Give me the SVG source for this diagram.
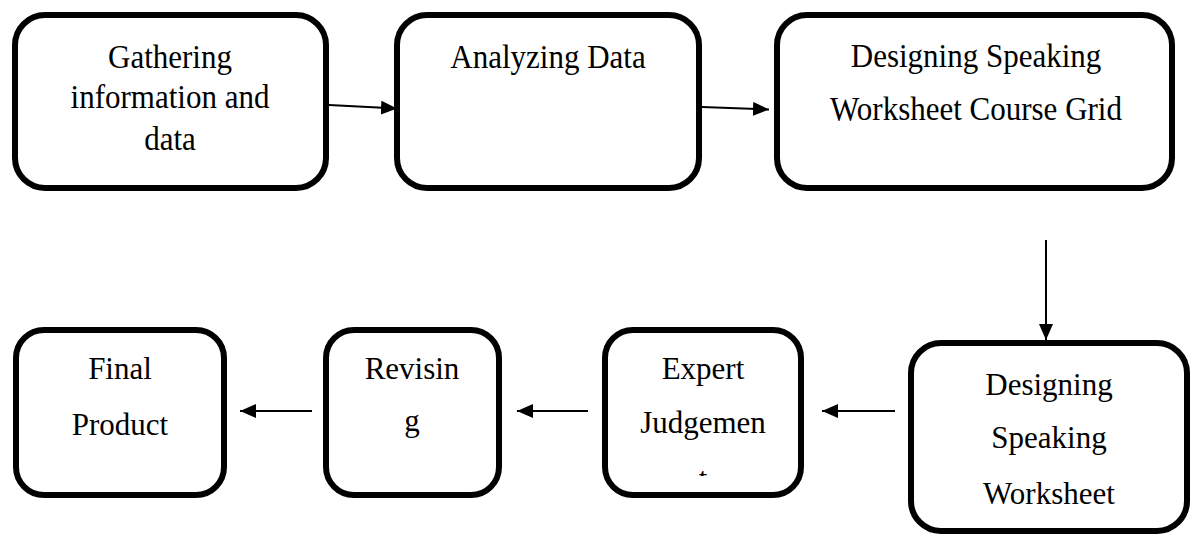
<svg xmlns="http://www.w3.org/2000/svg" width="1195" height="537" viewBox="0 0 1195 537">
  <style>
    .box { fill: #ffffff; stroke: #000000; stroke-width: 6; }
    .lbl { font-family: "Liberation Serif", "Times New Roman", serif; font-size: 31px; fill: #000000; text-anchor: middle; }
    .conn { stroke: #000000; stroke-width: 2; fill: none; marker-end: url(#head); }
  </style>
  <defs>
    <marker id="head" markerUnits="userSpaceOnUse" markerWidth="16" markerHeight="14" refX="16" refY="7" orient="auto">
      <path d="M0,0 L16,7 L0,14 Z" fill="#000000"/>
    </marker>
    <!-- the third line of "Judgement" is cut off by the box, only the top of the t shows -->
    <clipPath id="cut-t">
      <rect x="680" y="440" width="50" height="36"/>
    </clipPath>
  </defs>
  <rect width="1195" height="537" fill="#ffffff"/>

  <g id="n-gather">
    <rect class="box" x="15" y="15" width="311" height="173" rx="30"/>
    <text class="lbl" transform="translate(170 68) scale(1 1.06)">Gathering</text>
    <text class="lbl" transform="translate(170 108) scale(1 1.06)">information and</text>
    <text class="lbl" transform="translate(170 150) scale(1 1.06)">data</text>
  </g>

  <g id="n-analyze">
    <rect class="box" x="397" y="15" width="302" height="173" rx="30"/>
    <text class="lbl" transform="translate(548 68) scale(1 1.06)">Analyzing Data</text>
  </g>

  <g id="n-grid">
    <rect class="box" x="777" y="15" width="395" height="173" rx="30"/>
    <text class="lbl" transform="translate(976 67) scale(1 1.06)">Designing Speaking</text>
    <text class="lbl" transform="translate(976 120) scale(1 1.06)">Worksheet Course Grid</text>
  </g>

  <g id="n-worksheet">
    <rect class="box" x="911" y="343" width="276" height="188" rx="30"/>
    <text class="lbl" x="1049" y="395">Designing</text>
    <text class="lbl" x="1049" y="448">Speaking</text>
    <text class="lbl" x="1049" y="504">Worksheet</text>
  </g>

  <g id="n-expert">
    <rect class="box" x="605" y="330" width="196" height="165" rx="28"/>
    <text class="lbl" x="703" y="379">Expert</text>
    <text class="lbl" x="703" y="433">Judgemen</text>
    <g clip-path="url(#cut-t)">
      <text class="lbl" x="703" y="489">t</text>
    </g>
  </g>

  <g id="n-revise">
    <rect class="box" x="326" y="330" width="173" height="165" rx="28"/>
    <text class="lbl" x="412" y="379">Revisin</text>
    <text class="lbl" x="412" y="431">g</text>
  </g>

  <g id="n-final">
    <rect class="box" x="16" y="330" width="208" height="165" rx="28"/>
    <text class="lbl" x="120" y="379">Final</text>
    <text class="lbl" x="120" y="435">Product</text>
  </g>

  <g id="connectors">
    <line class="conn" x1="329" y1="105" x2="397" y2="108.5"/>
    <line class="conn" x1="702" y1="107" x2="769" y2="109.5"/>
    <line class="conn" x1="1046" y1="240" x2="1046" y2="340"/>
    <line class="conn" x1="895" y1="411" x2="822" y2="411"/>
    <line class="conn" x1="588" y1="411" x2="517" y2="411"/>
    <line class="conn" x1="312" y1="411" x2="240" y2="411"/>
  </g>
</svg>
